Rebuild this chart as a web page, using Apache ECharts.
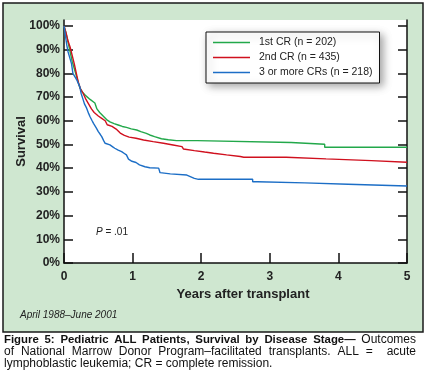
<!DOCTYPE html>
<html>
<head>
<meta charset="utf-8">
<script src="https://cdn.jsdelivr.net/npm/echarts@6/dist/echarts.min.js"></script>
<style>
html,body{margin:0;padding:0;background:#fff;}
#c{width:425px;height:375px;}
</style>
</head>
<body>
<div id="c"></div>
<script>
var FONT = 'Liberation Sans, Arial, sans-serif';

var seriesNames = ['1st CR (n = 202)', '2nd CR (n = 435)', '3 or more CRs (n = 218)'];
var seriesColors = ['#22a84a', '#d0101e', '#1c6ec6'];

// Kaplan-Meier curves: [years, survival %]
var firstCR = [[0,100],[0.03,97],[0.06,93],[0.09,89],[0.12,85],[0.16,81],[0.2,77],[0.23,74],[0.27,72],[0.32,70.5],[0.38,69],[0.45,67.5],[0.48,65],[0.52,63.5],[0.57,62],[0.62,60.5],[0.67,59.5],[0.73,58.8],[0.79,58.2],[0.85,57.6],[0.91,57.2],[0.98,56.6],[1.06,56.1],[1.12,55.4],[1.2,54.7],[1.25,54],[1.32,53.3],[1.42,52.4],[1.52,52.0],[1.64,51.6],[1.94,51.6],[1.94,50.8],[3.31,50.8],[3.31,50.1],[3.8,50.1],[3.8,48.8],[5,48.8]];

var secondCR = [[0,100],[0.03,97],[0.06,93.5],[0.09,91],[0.12,87.5],[0.15,84],[0.18,80],[0.21,76],[0.24,73.5],[0.28,71.5],[0.32,69],[0.36,67],[0.4,65],[0.44,63.5],[0.5,62],[0.55,61],[0.6,60],[0.63,58.3],[0.7,57.6],[0.76,56.5],[0.82,54.8],[0.88,53.8],[0.95,53.1],[1.05,52.6],[1.16,51.9],[1.3,51.2],[1.45,50.5],[1.59,49.8],[1.72,49.1],[1.74,48.1],[1.9,47.4],[2.05,46.8],[2.18,46.3],[2.37,45.6],[2.57,44.9],[2.62,44.6],[3.24,44.6],[3.24,43.9],[3.82,43.9],[3.82,43.2],[4.48,43.2],[4.48,42.5],[5,42.5]];

var thirdCR = [[0,100],[0.02,96],[0.04,92],[0.06,89],[0.09,86],[0.11,84],[0.13,80],[0.16,78.5],[0.19,77],[0.23,74.4],[0.25,71.5],[0.28,68.8],[0.3,67],[0.33,65.3],[0.36,63],[0.38,61.7],[0.41,60],[0.43,58.9],[0.47,57],[0.5,55.4],[0.53,54.2],[0.55,53.3],[0.58,51.5],[0.6,50.5],[0.67,49.8],[0.71,49],[0.74,48.4],[0.79,47.6],[0.84,47],[0.88,46.2],[0.91,45.6],[0.94,43.8],[0.99,42.9],[1.05,42.4],[1.1,41.4],[1.18,40.6],[1.25,40.2],[1.38,40.0],[1.4,38.1],[1.55,37.6],[1.79,37.1],[1.9,35.7],[1.96,35.3],[2.75,35.3],[2.75,34.3],[2.82,34.3],[2.82,33.8],[3.51,33.8],[3.51,33.2],[4.14,33.2],[4.14,32.5],[5,32.5]];

var yTicks = [0,10,20,30,40,50,60,70,80,90,100];
var xTicks = [0,1,2,3,4,5];

var captionLine1Bold = ['Figure', '5:', 'Pediatric', 'ALL', 'Patients,', 'Survival', 'by', 'Disease', 'Stage\u2014'];
var captionLine1Reg = ['Outcomes'];
var captionLine2 = ['of', 'National', 'Marrow', 'Donor', 'Program\u2013facilitated', 'transplants.', 'ALL', '=', '', 'acute'];
var captionLine3 = 'lymphoblastic leukemia; CR = complete remission.';

var chart = echarts.init(document.getElementById('c'), null, {renderer:'canvas'});

var measureCtx = document.createElement('canvas').getContext('2d');
function textW(t, font){ measureCtx.font = font; return measureCtx.measureText(t).width; }

// justified caption line (text layout only)
function justifyLine(words, x0, x1, y){
  var total = 0;
  words.forEach(function(w){ w.w = textW(w.t, w.font); total += w.w; });
  var gap = (x1 - x0 - total) / (words.length - 1);
  var x = x0, out = [];
  words.forEach(function(w){
    if (w.t) out.push({type: 'text', z: 10, x: x, y: y,
      style: {text: w.t, fill: '#111', font: w.font, verticalAlign: 'middle'}});
    x += w.w + gap;
  });
  return out;
}

var boldF = 'bold 11.4px ' + FONT;
var regF = '12px ' + FONT;
var line1 = captionLine1Bold.map(function(t){ return {t: t, font: boldF}; })
  .concat(captionLine1Reg.map(function(t){ return {t: t, font: regF}; }));
var line2 = captionLine2.map(function(t){ return {t: t, font: regF}; });

function mkSeries(name, data, color){
  return {
    name: name, type: 'line', data: data, symbol: 'none', showSymbol: false,
    lineStyle: {color: color, width: 1.4}, itemStyle: {color: color},
    xAxisIndex: 0, yAxisIndex: 0, z: 3
  };
}

var yAxisBase = {
  type: 'value', min: 0, max: 102.5,
  axisLine: {show: true, lineStyle: {color: '#111', width: 1.5}},
  axisTick: {show: true, inside: true, length: 9, customValues: yTicks, lineStyle: {color: '#111', width: 1.5}},
  splitLine: {show: false}
};

var graphics = [
  {type: 'rect', z: -10, shape: {x: 3, y: 3, width: 420, height: 329},
   style: {fill: '#cfe7d0', stroke: '#1a1a1a', lineWidth: 1.5}},
  {type: 'text', z: 10, x: 243, y: 294,
   style: {text: 'Years after transplant', fill: '#222', font: 'bold 13px ' + FONT, align: 'center', verticalAlign: 'middle'}},
  {type: 'text', z: 10, x: 96, y: 232,
   style: {text: '{i|P} = .01', fill: '#222', font: '10px ' + FONT, verticalAlign: 'middle',
     rich: {i: {fontStyle: 'italic', fontSize: 10, fontFamily: FONT, fill: '#222'}}}},
  {type: 'text', z: 10, x: 20, y: 315,
   style: {text: 'April 1988\u2013June 2001', fill: '#222', font: 'italic 10px ' + FONT, verticalAlign: 'middle'}},
  {type: 'text', z: 10, x: 4, y: 364,
   style: {text: captionLine3, fill: '#111', font: regF, verticalAlign: 'middle'}}
].concat(justifyLine(line1, 4, 416, 340)).concat(justifyLine(line2, 4, 416, 352));

chart.setOption({
  animation: false,
  backgroundColor: '#fff',
  textStyle: {fontFamily: FONT},
  grid: {left: 64, right: 18, top: 20, bottom: 112, show: true, backgroundColor: '#fff', borderWidth: 0},
  legend: {
    orient: 'vertical', left: 206, top: 32,
    data: seriesNames,
    icon: 'rect',
    itemWidth: 37, itemHeight: 1.5, itemGap: 4,
    padding: [5, 7, 5, 7],
    backgroundColor: '#fff', borderColor: '#111', borderWidth: 1,
    shadowBlur: 8, shadowColor: 'rgba(0,0,0,0.35)', shadowOffsetX: 3, shadowOffsetY: 3,
    textStyle: {fontFamily: FONT, fontSize: 10.5, color: '#222', padding: [0,0,0,4]}
  },
  xAxis: {
    type: 'value', min: 0, max: 5, interval: 1,
    axisLine: {show: true, lineStyle: {color: '#111', width: 1.5}},
    axisTick: {show: true, inside: true, length: 10, customValues: xTicks, lineStyle: {color: '#111', width: 1.5}},
    axisLabel: {customValues: xTicks, margin: 8, fontFamily: FONT, fontSize: 12, fontWeight: 'bold', color: '#222'},
    splitLine: {show: false}
  },
  yAxis: [
    Object.assign({}, yAxisBase, {
      position: 'left',
      name: 'Survival', nameLocation: 'middle', nameRotate: 90, nameGap: 36, nameMoveOverlap: false,
      nameTextStyle: {fontFamily: FONT, fontSize: 13, fontWeight: 'bold', color: '#222'},
      axisLabel: {customValues: yTicks, formatter: '{value}%', margin: 4, fontFamily: FONT, fontSize: 12, fontWeight: 'bold', color: '#222'}
    }),
    Object.assign({}, yAxisBase, {
      position: 'right',
      axisLabel: {show: false}
    })
  ],
  series: [
    mkSeries(seriesNames[0], firstCR, seriesColors[0]),
    mkSeries(seriesNames[1], secondCR, seriesColors[1]),
    mkSeries(seriesNames[2], thirdCR, seriesColors[2])
  ],
  graphic: graphics
});
</script>
</body>
</html>
